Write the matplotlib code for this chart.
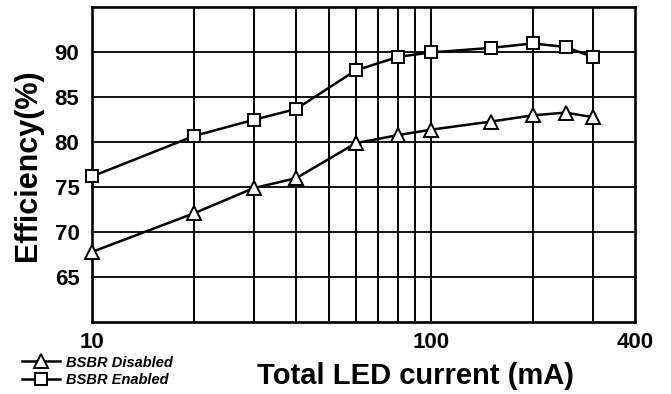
import matplotlib
matplotlib.use("Agg")
import matplotlib.pyplot as plt
from matplotlib.ticker import FixedLocator, NullFormatter

plt.rcParams["font.family"] = ["Liberation Sans", "DejaVu Sans"]
plt.rcParams["font.weight"] = "bold"

# LED current (mA) and efficiency (%)
current = [10, 20, 30, 40, 60, 80, 100, 150, 200, 250, 300]
eff_disabled = [67.8, 72.1, 74.9, 76.0, 79.9, 80.8, 81.4, 82.3, 83.0, 83.3, 82.8]
eff_enabled = [76.2, 80.7, 82.5, 83.7, 88.0, 89.5, 90.0, 90.5, 91.0, 90.6, 89.5]

grid_x = [20, 30, 40, 50, 60, 70, 80, 90, 100, 200, 300]
xtick_vals = [10, 100, 400]
ytick_vals = [65, 70, 75, 80, 85, 90]

fig = plt.figure(figsize=(6.71, 3.94), dpi=100)
ax = fig.add_axes([0.1371, 0.1827, 0.8092, 0.7983])

ax.set_xscale("log")
ax.set_xlim(10, 400)
ax.set_ylim(60, 95)

for gx in grid_x:
    ax.axvline(gx, color="black", lw=1.4, zorder=1)
for gy in ytick_vals:
    ax.axhline(gy, color="black", lw=1.3, zorder=1)

l1, = ax.plot(current, eff_disabled, "-^", color="black", lw=1.8,
              markersize=10, markerfacecolor="white", markeredgecolor="black",
              markeredgewidth=1.4, zorder=3, clip_on=False)
l2, = ax.plot(current, eff_enabled, "-s", color="black", lw=1.8,
              markersize=9, markerfacecolor="white", markeredgecolor="black",
              markeredgewidth=1.4, zorder=3, clip_on=False)

ax.xaxis.set_major_locator(FixedLocator(xtick_vals))
ax.xaxis.set_minor_formatter(NullFormatter())
ax.xaxis.set_minor_locator(FixedLocator([]))
ax.set_xticklabels([str(v) for v in xtick_vals])
ax.set_yticks(ytick_vals)
ax.tick_params(axis="both", length=0, labelsize=16)
ax.tick_params(axis="x", pad=7)
ax.tick_params(axis="y", pad=9)

for sp in ax.spines.values():
    sp.set_linewidth(1.9)

ax.set_ylabel("Efficiency(%)", fontsize=22, fontweight="bold")
ax.yaxis.set_label_coords(-0.09, 0.5)
ax.set_xlabel("Total LED current (mA)", fontsize=21, fontweight="bold")
ax.xaxis.set_label_coords(0.595, -0.128)

fig.legend([l1, l2], ["BSBR Disabled", "BSBR Enabled"],
           loc="lower left", bbox_to_anchor=(0.02, -0.005),
           frameon=False, handlelength=2.6, handletextpad=0.4,
           labelspacing=0.25, borderpad=0.1,
           prop={"size": 10.5, "weight": "bold", "style": "italic"})

fig.savefig("out.png", dpi=100)
